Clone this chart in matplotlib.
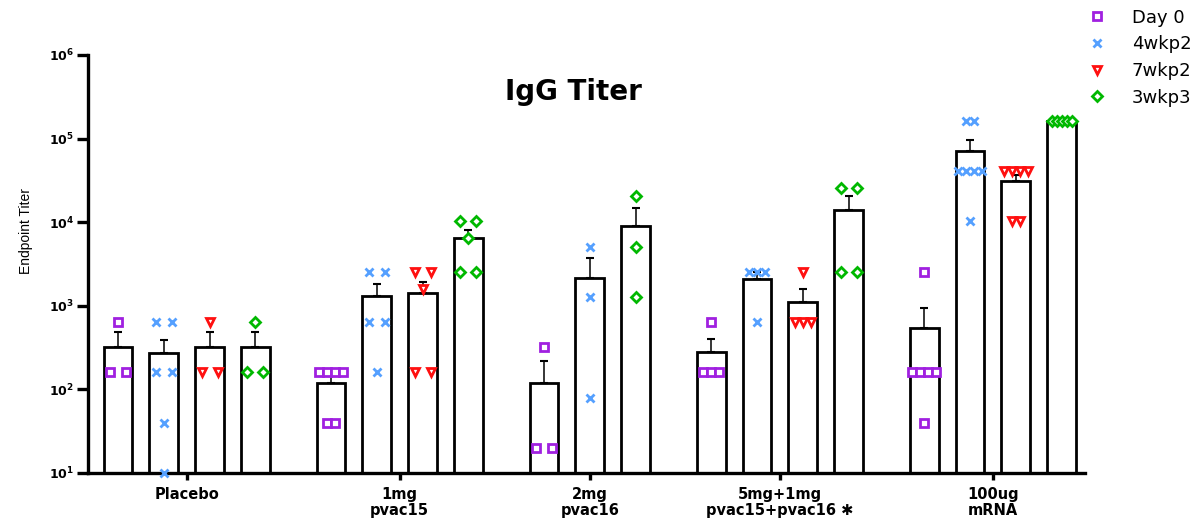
import matplotlib
matplotlib.use("Agg")
import matplotlib.pyplot as plt
import numpy as np
from matplotlib.lines import Line2D
from matplotlib.ticker import FixedLocator, FuncFormatter

# --- data (endpoint titers per animal) ---
groups = ["Placebo", "1mg\npvac15", "2mg\npvac16", "5mg+1mg\npvac15+pvac16 \u2731", "100ug\nmRNA"]
series = ["Day 0", "4wkp2", "7wkp2", "3wkp3"]

day0 = [[640, 160, 160],
        [160, 160, 160, 160, 40, 40],
        [320, 20, 20],
        [640, 160, 160, 160],
        [2560, 160, 160, 160, 160, 40]]
wk4p2 = [[640, 640, 160, 160, 40, 10],
         [2560, 2560, 640, 640, 160],
         [5120, 1280, 80],
         [2560, 2560, 2560, 640],
         [163840, 163840, 40960, 40960, 40960, 40960, 10240]]
wk7p2 = [[640, 160, 160],
         [2560, 2560, 1600, 160, 160],
         None,
         [2560, 640, 640, 640],
         [40960, 40960, 40960, 40960, 10240, 10240]]
wk3p3 = [[640, 160, 160],
         [10240, 10240, 6400, 2560, 2560],
         [20480, 5120, 1280],
         [25600, 25600, 2560, 2560],
         [163840, 163840, 163840, 163840, 163840]]

all_series = [day0, wk4p2, wk7p2, wk3p3]
colors = ["#A020E0", "#55A0FF", "#FF1010", "#00B800"]
markers = ["s", "x", "v", "D"]
msizes = [5.5, 6, 6, 5]

# --- layout ---
px_per_slot = 45.8
group_gap = 1.65

fig = plt.figure(figsize=(12, 5.18), dpi=100)
ax = fig.add_axes([88 / 1200, 1 - 473 / 518, (1085 - 88) / 1200, (473 - 55) / 518])

pos = 0.0
centers = []
for g in range(len(groups)):
    xs_g = []
    for s in range(len(series)):
        vals = all_series[s][g]
        if vals is None:
            continue
        vals = np.array(vals, dtype=float)
        m = vals.mean()
        sem = vals.std(ddof=1) / np.sqrt(len(vals))
        ax.bar(pos, m - 10, bottom=10, width=0.63, facecolor="white",
               edgecolor="black", linewidth=2.0, zorder=1)
        ax.errorbar(pos, m, yerr=[[0], [sem]], fmt="none", ecolor="black",
                    elinewidth=1.1, capsize=3, capthick=1.5, zorder=2)
        # spread equal values side by side
        uniq, counts = np.unique(vals, return_counts=True)
        maxc = counts.max()
        sp = 16 if maxc <= 2 else (8 if maxc <= 4 else 5)
        sp = sp / px_per_slot
        for u, c in zip(uniq, counts):
            offs = (np.arange(c) - (c - 1) / 2) * sp
            ax.plot(pos + offs, [u] * c, linestyle="none", marker=markers[s],
                    ms=msizes[s], mew=2, mec=colors[s],
                    mfc="white" if markers[s] != "x" else colors[s],
                    zorder=3, clip_on=False)
        xs_g.append(pos)
        pos += 1
    centers.append(np.mean(xs_g))
    pos += group_gap - 1

ax.set_yscale("log")
ax.set_ylim(10, 1e6)
ax.set_xlim(-0.655, 21.11)

for side in ["top", "right"]:
    ax.spines[side].set_visible(False)
for side in ["left", "bottom"]:
    ax.spines[side].set_linewidth(2.4)

ax.yaxis.set_major_locator(FixedLocator([1e1, 1e2, 1e3, 1e4, 1e5, 1e6]))
ax.yaxis.set_minor_locator(FixedLocator([]))
ax.yaxis.set_major_formatter(FuncFormatter(
    lambda v, p: r"$\mathbf{10^{%d}}$" % round(np.log10(v))))
ax.tick_params(axis="y", length=8, width=2.4, labelsize=9, pad=2)

ax.set_xticks(centers)
ax.set_xticklabels(groups, fontsize=10.5, fontweight="bold", linespacing=1.1,
                   family=["DejaVu Sans"])
ax.tick_params(axis="x", length=5, width=2.4, pad=5)

fig.text(573 / 1200, 1 - 92 / 518, "IgG Titer", ha="center", va="center",
         fontsize=20, fontweight="bold")
fig.text(26 / 1200, 1 - 231 / 518, "Endpoint Titer", ha="center", va="center",
         rotation=90, fontsize=10, family=["Liberation Sans", "DejaVu Sans"])

handles = [Line2D([], [], linestyle="none", marker=markers[i], ms=msizes[i], mew=2,
                  mec=colors[i], mfc="white" if markers[i] != "x" else colors[i])
           for i in range(4)]
fig.legend(handles, series, loc="upper left", bbox_to_anchor=(1083 / 1200, 1 - 5 / 518),
           frameon=False, fontsize=13, handlelength=1.2, handletextpad=1.3,
           labelspacing=0.48, borderpad=0.2, borderaxespad=0)

fig.savefig("out.png", dpi=100)
